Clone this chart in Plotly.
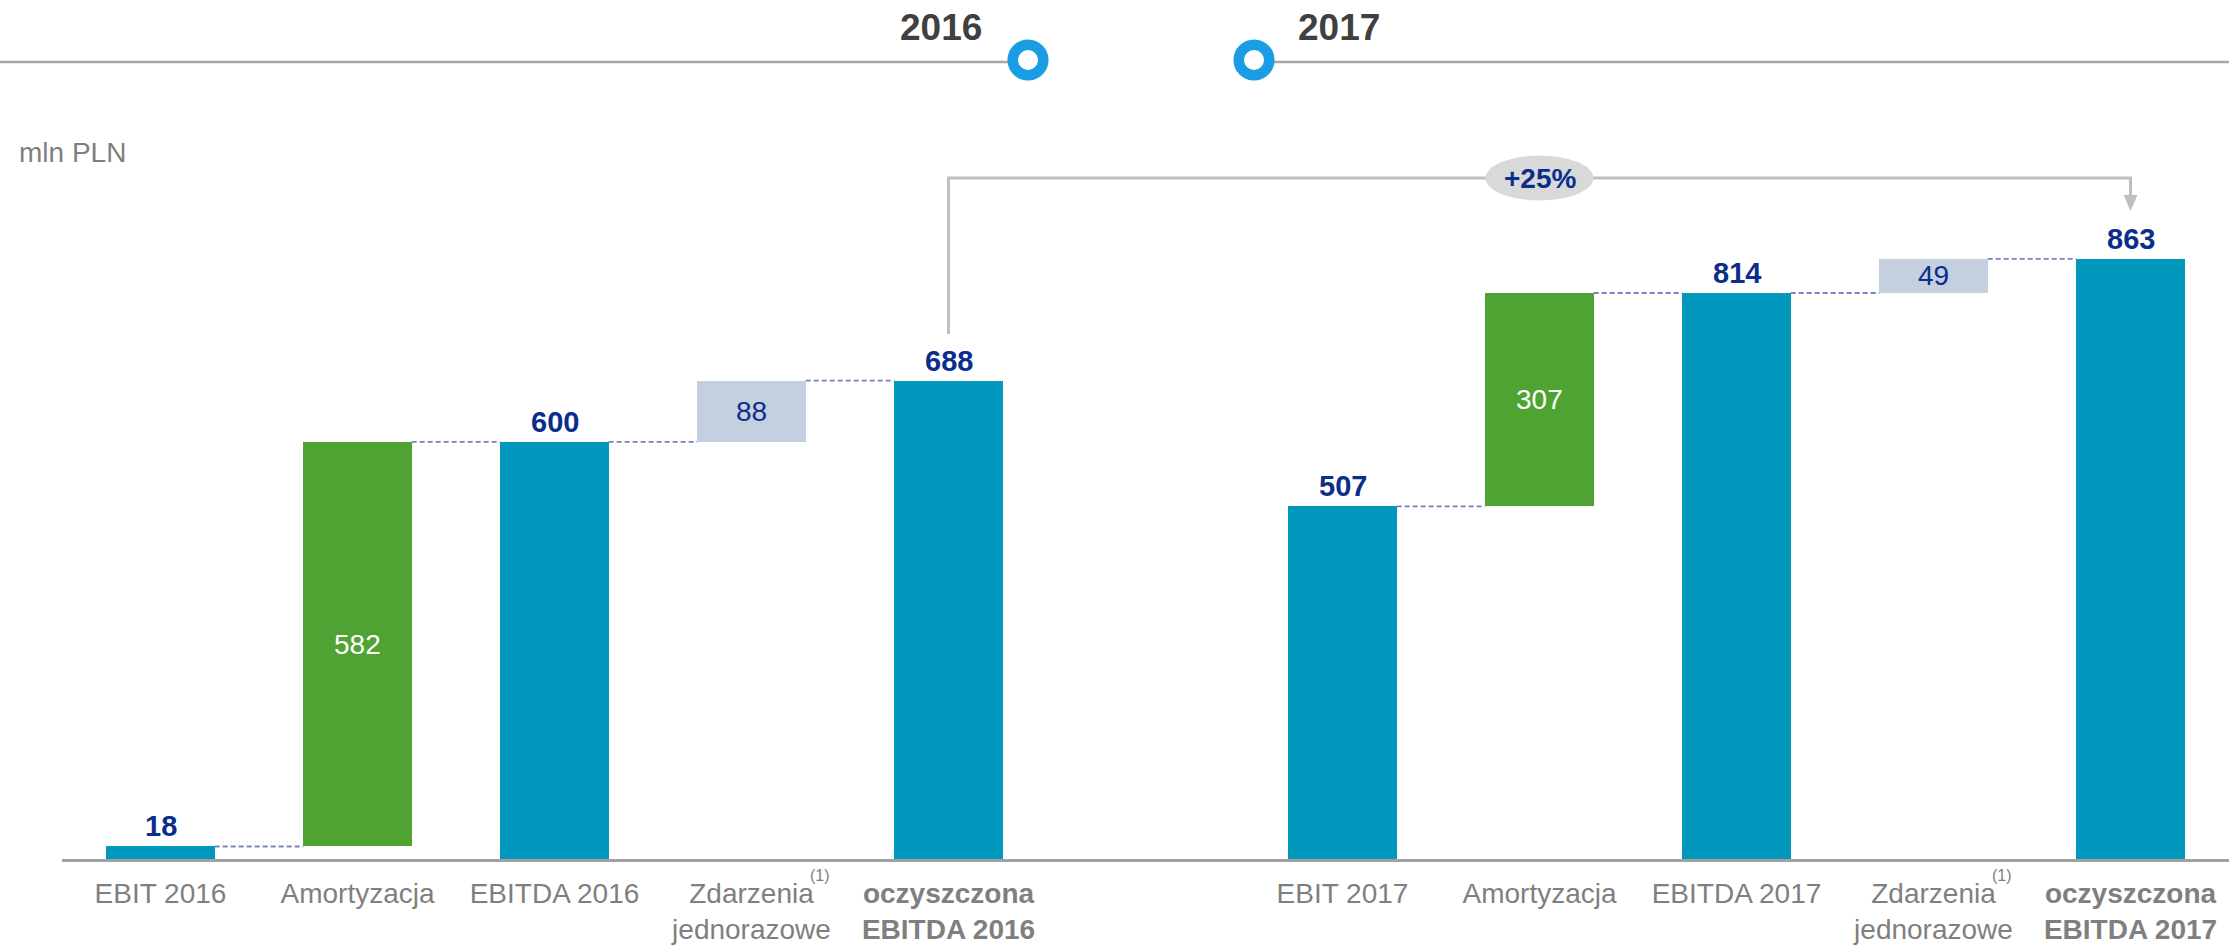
import plotly.graph_objects as go

# ---------------- data ----------------
categories = ["EBIT 2016", "Amortyzacja", "EBITDA 2016", "Zdarzenia jednorazowe", "oczyszczona EBITDA 2016",
              "EBIT 2017", "Amortyzacja", "EBITDA 2017", "Zdarzenia jednorazowe", "oczyszczona EBITDA 2017"]
tick_labels = ["EBIT 2016", "Amortyzacja", "EBITDA 2016", "Zdarzenia<br>jednorazowe", "<b>oczyszczona<br>EBITDA 2016</b>",
               "EBIT 2017", "Amortyzacja", "EBITDA 2017", "Zdarzenia<br>jednorazowe", "<b>oczyszczona<br>EBITDA 2017</b>"]
positions = [0, 1, 2, 3, 4, 6, 7, 8, 9, 10]
values = [18, 582, 600, 88, 688, 507, 307, 814, 49, 863]
kinds = ["total", "amort", "total", "oneoff", "total", "total", "amort", "total", "oneoff", "total"]
footnote_idx = [3, 8]
header_years = ["2016", "2017"]
growth_label = "+25%"
unit_label = "mln PLN"

# ---------------- style ----------------
W, H = 2229, 947
FONT = "Liberation Sans, Arial, sans-serif"
TEAL = "#0098BD"
GREEN = "#4FA332"
LIGHT = "#C4CFE0"
NAVY = "#0B2E8C"
GRAY = "#7F7F7F"
BAR_W = 0.55

colors = {"total": TEAL, "amort": GREEN, "oneoff": LIGHT}
inner_text_color = {"amort": "white", "oneoff": NAVY}

# bases of floating bars
bases = []
running = 0
for v, k in zip(values, kinds):
    if k == "total":
        bases.append(0)
        running = v
    else:
        bases.append(running)
        running += v
tops = [b + v for b, v in zip(bases, values)]

def py(p):  # pixel from top -> paper y
    return 1 - p / H

def pxp(p):  # pixel from left -> paper x
    return p / W

fig = go.Figure()

fig.add_trace(go.Bar(
    x=positions, y=values, base=bases, width=BAR_W,
    marker=dict(color=[colors[k] for k in kinds], line=dict(width=0)),
    hoverinfo="skip", showlegend=False,
))

# dashed connectors
cx, cy = [], []
for i in range(len(positions) - 1):
    if positions[i + 1] - positions[i] == 1:
        cx += [positions[i] + BAR_W / 2, positions[i + 1] - BAR_W / 2, None]
        cy += [tops[i], tops[i], None]
fig.add_trace(go.Scatter(x=cx, y=cy, mode="lines",
                         line=dict(color="#7385BD", width=1.8, dash="5px,3px"),
                         hoverinfo="skip", showlegend=False))

annotations = []
for p, v, b, k in zip(positions, values, bases, kinds):
    if k == "total":
        annotations.append(dict(x=p, y=v, xref="x", yref="y", text=f"<b>{v}</b>", showarrow=False,
                                yshift=20, yanchor="middle",
                                font=dict(family=FONT, size=29, color=NAVY)))
    else:
        annotations.append(dict(x=p, y=b + v / 2, xref="x", yref="y", text=str(v), showarrow=False,
                                yanchor="middle",
                                font=dict(family=FONT, size=28, color=inner_text_color[k])))

# footnote markers
for i in footnote_idx:
    annotations.append(dict(x=positions[i] + 0.35, y=py(875), xref="x", yref="paper", text="(1)",
                            showarrow=False, yanchor="middle",
                            font=dict(family=FONT, size=16, color=GRAY)))

# header
annotations.append(dict(x=pxp(984), y=py(27), xref="paper", yref="paper", text=f"<b>{header_years[0]}</b>",
                        showarrow=False, xanchor="right", yanchor="middle",
                        font=dict(family=FONT, size=37, color="#404040")))
annotations.append(dict(x=pxp(1296), y=py(27), xref="paper", yref="paper", text=f"<b>{header_years[1]}</b>",
                        showarrow=False, xanchor="left", yanchor="middle",
                        font=dict(family=FONT, size=37, color="#404040")))
annotations.append(dict(x=pxp(17), y=py(152), xref="paper", yref="paper", text=unit_label,
                        showarrow=False, xanchor="left", yanchor="middle",
                        font=dict(family=FONT, size=28, color=GRAY)))

# growth label
x_from, x_mid = positions[4], positions[6]
annotations.append(dict(x=x_mid, y=py(178), xref="x", yref="paper", text=f"<b>{growth_label}</b>",
                        showarrow=False, yanchor="middle",
                        font=dict(family=FONT, size=28, color=NAVY)))

shapes = []
# header line and circles
shapes.append(dict(type="line", xref="paper", yref="paper", x0=0, x1=pxp(1010), y0=py(62), y1=py(62),
                   line=dict(color="#A6A6A6", width=2.5)))
shapes.append(dict(type="line", xref="paper", yref="paper", x0=pxp(1272), x1=1, y0=py(62), y1=py(62),
                   line=dict(color="#A6A6A6", width=2.5)))
for cxp in (1028, 1254):
    shapes.append(dict(type="circle", xref="paper", yref="paper",
                       x0=pxp(cxp - 15.3), x1=pxp(cxp + 15.3), y0=py(60 + 15.3), y1=py(60 - 15.3),
                       fillcolor="white", line=dict(color="#1B9DE6", width=10.5)))

# bracket
BR = "#BFBFBF"
shapes.append(dict(type="path", xref="x", yref="paper",
                   path=f"M {x_from} {py(334)} L {x_from} {py(178)} L {positions[-1]} {py(178)} L {positions[-1]} {py(196)}",
                   line=dict(color=BR, width=3)))
ah = 7 / 197
shapes.append(dict(type="path", xref="x", yref="paper",
                   path=f"M {positions[-1] - ah} {py(195)} L {positions[-1] + ah} {py(195)} L {positions[-1]} {py(211)} Z",
                   fillcolor=BR, line=dict(color=BR, width=0)))
# ellipse behind label
ew = 54 / 197
shapes.append(dict(type="circle", xref="x", yref="paper", layer="above",
                   x0=x_mid - ew, x1=x_mid + ew, y0=py(178 + 22.5), y1=py(178 - 22.5),
                   fillcolor="#D9D9D9", line=dict(width=0)))

fig.update_layout(
    width=W, height=H,
    margin=dict(l=0, r=0, t=0, b=0),
    paper_bgcolor="white", plot_bgcolor="white",
    bargap=0,
    xaxis=dict(domain=[62 / W, 1], range=[-0.5, 10.5], tickvals=positions, ticktext=tick_labels,
               showgrid=False, zeroline=False, showline=True, linecolor="#A0A0A0", linewidth=3,
               ticks="outside", ticklen=7, tickcolor="rgba(0,0,0,0)",
               tickfont=dict(family=FONT, size=28, color=GRAY), fixedrange=True),
    yaxis=dict(domain=[88 / H, 1], range=[0, 1235.4], showgrid=False, zeroline=False,
               showticklabels=False, showline=False, fixedrange=True),
    annotations=annotations,
    shapes=shapes,
    showlegend=False,
)

fig.write_html("out.html", config={"displayModeBar": False},
               post_script="document.body.style.margin='0';document.body.style.overflow='hidden';")
